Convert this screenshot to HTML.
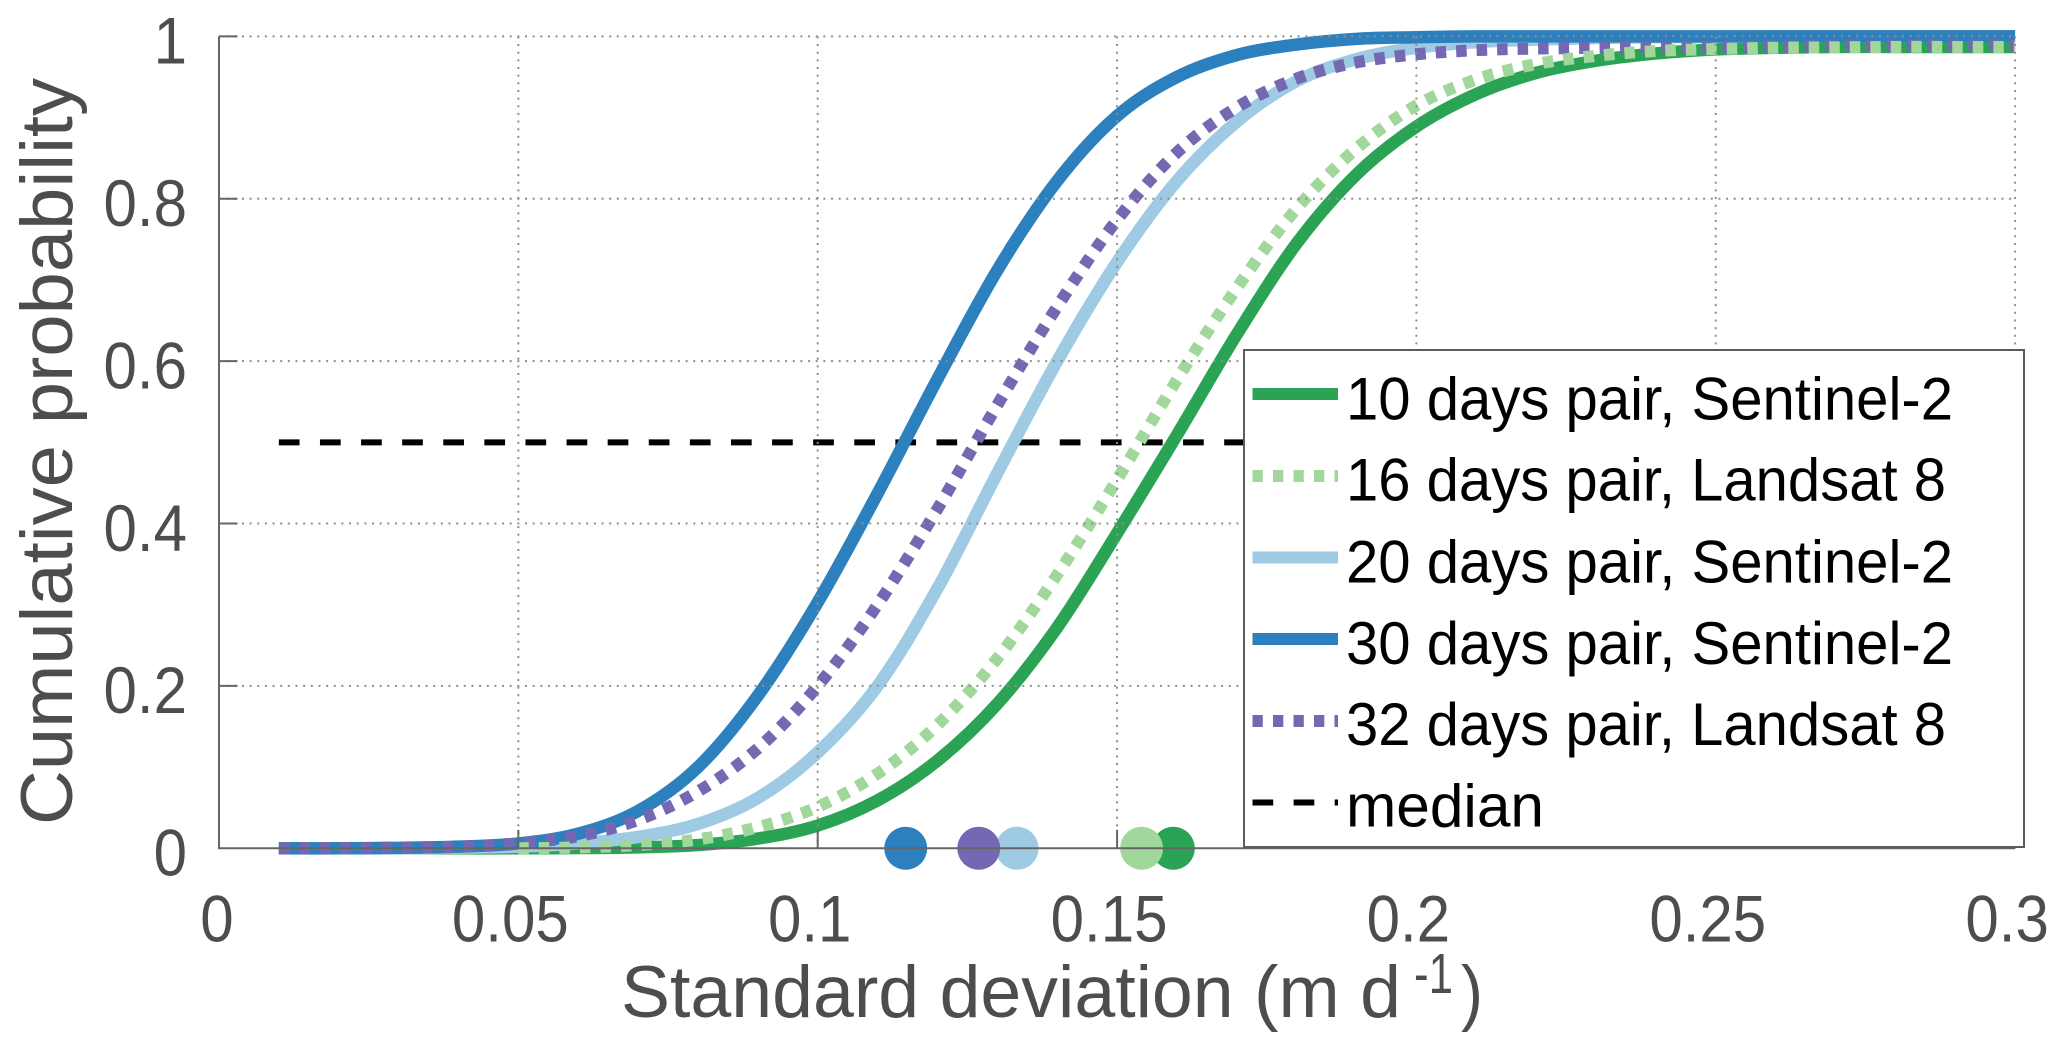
<!DOCTYPE html>
<html lang="en">
<head>
<meta charset="utf-8">
<title>Cumulative probability of standard deviation</title>
<style>
html,body{margin:0;padding:0;background:#fff;}
svg{display:block;}
text{font-family:"Liberation Sans",sans-serif;}
</style>
</head>
<body>
<svg id="chart" xmlns="http://www.w3.org/2000/svg" width="2067" height="1044" viewBox="0 0 2067 1044">
  <rect x="0" y="0" width="2067" height="1044" fill="#fff"/>
  <g id="marks"></g>
  <g id="axes"></g>

  <text transform="translate(72,825) rotate(-90)" font-size="73" fill="#4d4d4f" textLength="747" lengthAdjust="spacingAndGlyphs">Cumulative probability</text>
  <g fill="#4d4d4f">
    <text x="621" y="1017" font-size="73" textLength="780" lengthAdjust="spacingAndGlyphs">Standard deviation (m d</text>
    <text x="1414" y="993" font-size="57" textLength="39" lengthAdjust="spacingAndGlyphs">-1</text>
    <text x="1461" y="1017" font-size="73" textLength="22" lengthAdjust="spacingAndGlyphs">)</text>
  </g>

  <g>
    <rect x="1244" y="350" width="780" height="497" fill="#fff" stroke="#5c5c5c" stroke-width="2"/>
    <g>
      <line x1="1252.5" x2="1338" y1="394" y2="394" stroke="#2ba355" stroke-width="12"/>
      <text x="1346" y="419.3" font-size="60" fill="#000" textLength="607" lengthAdjust="spacingAndGlyphs">10 days pair, Sentinel-2</text>
    </g>
    <g>
      <line x1="1252.5" x2="1338" y1="476" y2="476" stroke="#a1d79b" stroke-width="12" stroke-dasharray="10.3 10.2"/>
      <text x="1346" y="500.7" font-size="60" fill="#000" textLength="600" lengthAdjust="spacingAndGlyphs">16 days pair, Landsat 8</text>
    </g>
    <g>
      <line x1="1252.5" x2="1338" y1="557.5" y2="557.5" stroke="#9ecae3" stroke-width="12"/>
      <text x="1346" y="582.5" font-size="60" fill="#000" textLength="607" lengthAdjust="spacingAndGlyphs">20 days pair, Sentinel-2</text>
    </g>
    <g>
      <line x1="1252.5" x2="1338" y1="639" y2="639" stroke="#2c80bd" stroke-width="12"/>
      <text x="1346" y="664" font-size="60" fill="#000" textLength="607" lengthAdjust="spacingAndGlyphs">30 days pair, Sentinel-2</text>
    </g>
    <g>
      <line x1="1252.5" x2="1338" y1="721" y2="721" stroke="#7468b2" stroke-width="12" stroke-dasharray="10.3 10.2"/>
      <text x="1346" y="745" font-size="60" fill="#000" textLength="600" lengthAdjust="spacingAndGlyphs">32 days pair, Landsat 8</text>
    </g>
    <g>
      <line x1="1252.5" x2="1338" y1="802.5" y2="802.5" stroke="#000" stroke-width="6" stroke-dasharray="20.7 20.4"/>
      <text x="1346" y="826.4" font-size="60" fill="#000" textLength="198" lengthAdjust="spacingAndGlyphs">median</text>
    </g>
  </g>
</svg>

<script>
const xSamples = [0.01,0.02,0.03,0.04,0.05,0.06,0.07,0.08,0.09,0.10,0.11,0.12,0.13,0.14,0.15,0.16,0.17,0.18,0.19,0.20,0.21,0.22,0.23,0.24,0.25,0.26,0.27,0.28,0.29,0.30];
const days10Sentinel = [0,0,0,0,0,0.0003,0.0012,0.004,0.012,0.028,0.059,0.108,0.178,0.272,0.388,0.509,0.633,0.745,0.83,0.889,0.929,0.955,0.97,0.979,0.984,0.986,0.987,0.987,0.987,0.987];
const days16Landsat = [0,0,0,0,0,0.001,0.004,0.011,0.026,0.051,0.092,0.152,0.234,0.337,0.454,0.577,0.69,0.788,0.862,0.915,0.947,0.966,0.976,0.982,0.9845,0.986,0.9865,0.987,0.987,0.987];
const days20Sentinel = [0,0,0,0.0008,0.002,0.006,0.014,0.03,0.062,0.118,0.2,0.32,0.462,0.6,0.722,0.822,0.895,0.945,0.972,0.986,0.993,0.996,0.998,0.999,0.9995,1,1,1,1,1];
const days30Sentinel = [0,0,0.0005,0.002,0.006,0.018,0.046,0.1,0.188,0.303,0.437,0.578,0.712,0.822,0.902,0.95,0.977,0.99,0.997,0.999,1,1,1,1,1,1,1,1,1,1];
const days32Landsat = [0,0,0.001,0.002,0.006,0.015,0.035,0.07,0.123,0.2,0.3,0.418,0.546,0.667,0.774,0.857,0.9125,0.948,0.968,0.978,0.983,0.985,0.986,0.987,0.987,0.9875,0.988,0.988,0.9885,0.9885];
const medianLevel = [0.5, 0.5];
const medianExtent = [0.01, 0.3];
const medianDots30 = 0.1147;
const medianDots20 = 0.1333;
const medianDots32 = 0.1269;
const medianDots10 = 0.1594;
const medianDots16 = 0.1541;
const xTicks = [0,0.05,0.1,0.15,0.2,0.25,0.3];
const xTickLabels = ["0","0.05","0.1","0.15","0.2","0.25","0.3"];
const yTicks = [0,0.2,0.4,0.6,0.8,1];
const yTickLabels = ["0","0.2","0.4","0.6","0.8","1"];

const SVGNS = "http://www.w3.org/2000/svg";
const marks = document.getElementById("marks");
const axes = document.getElementById("axes");
function xScale(v){ return 219 + v * 5987; }
function yScale(v){ return 848.3 - v * 811.9; }
function make(tag, attrs, parent){
  const el = document.createElementNS(SVGNS, tag);
  for (const k in attrs) el.setAttribute(k, attrs[k]);
  parent.appendChild(el);
  return el;
}
function smoothPath(xs, ys){
  const p = xs.map((x,i)=>[xScale(x), yScale(ys[i])]);
  let d = "M" + p[0][0].toFixed(2) + "," + p[0][1].toFixed(2);
  for (let i = 0; i < p.length - 1; i++){
    const a = p[Math.max(i-1,0)], b = p[i], c = p[i+1], e = p[Math.min(i+2,p.length-1)];
    const c1x = b[0] + (c[0]-a[0])/6, c1y = b[1] + (c[1]-a[1])/6;
    const c2x = c[0] - (e[0]-b[0])/6, c2y = c[1] - (e[1]-b[1])/6;
    d += "C" + c1x.toFixed(2) + "," + c1y.toFixed(2) + " " + c2x.toFixed(2) + "," + c2y.toFixed(2) + " " + c[0].toFixed(2) + "," + c[1].toFixed(2);
  }
  return d;
}
/* the 16-day dashes are not visible along the flat zero tail, so start the path where the curve lifts */
function liftStart(ys){
  const first = ys.findIndex(function(v){ return v > 0; });
  return Math.max(first - 1, 0);
}

/* median line */
const medianLine = make("line", {x1:xScale(medianExtent[0]), x2:xScale(medianExtent[1]), y1:yScale(medianLevel[0]), y2:yScale(medianLevel[1]), stroke:"#000", "stroke-width":6, "stroke-dasharray":"20.7 20.4"}, marks);



/* curves */
const curve10 = make("path", {d:smoothPath(xSamples, days10Sentinel), fill:"none", stroke:"#2ba355", "stroke-width":12.5}, marks);


const curve20 = make("path", {d:smoothPath(xSamples, days20Sentinel), fill:"none", stroke:"#9ecae3", "stroke-width":12.5}, marks);


const curve30 = make("path", {d:smoothPath(xSamples, days30Sentinel), fill:"none", stroke:"#2c80bd", "stroke-width":12.5}, marks);


const curve32 = make("path", {d:smoothPath(xSamples, days32Landsat), fill:"none", stroke:"#7468b2", "stroke-width":12, "stroke-dasharray":"10.5 10"}, marks);


const start16 = liftStart(days16Landsat);
const curve16 = make("path", {d:smoothPath(xSamples.slice(start16), days16Landsat.slice(start16)), fill:"none", stroke:"#a1d79b", "stroke-width":12, "stroke-dasharray":"10.5 10"}, marks);



/* median dots */
const dot30 = make("circle", {cx:xScale(medianDots30), cy:yScale(0), r:21.5, fill:"#2c80bd"}, marks);


const dot20 = make("circle", {cx:xScale(medianDots20), cy:yScale(0), r:21.5, fill:"#9ecae3"}, marks);


const dot32 = make("circle", {cx:xScale(medianDots32), cy:yScale(0), r:21.5, fill:"#7468b2"}, marks);


const dot10 = make("circle", {cx:xScale(medianDots10), cy:yScale(0), r:21.5, fill:"#2ba355"}, marks);


const dot16 = make("circle", {cx:xScale(medianDots16), cy:yScale(0), r:21.5, fill:"#a1d79b"}, marks);



/* grid, axes, ticks and tick labels sit above the marks */
xTicks.forEach(function(t, i){
  const x = xScale(t);
  if (t !== 0) {
    const g = make("line", {x1:x, x2:x, y1:yScale(1), y2:yScale(0), stroke:"#8f8f8f", "stroke-width":2, "stroke-dasharray":"2 5.65"}, axes);
    
    
    const tk = make("line", {x1:x, x2:x, y1:yScale(0), y2:yScale(0)-18.5, stroke:"#666", "stroke-width":2}, axes);
    
    
  }
  const labelX = x - (t === 0 ? 2 : 8);
  const lb = make("text", {transform:"translate(" + labelX + ",941.5) scale(0.91,1)", "text-anchor":"middle", "font-size":66, fill:"#4d4d4f"}, axes);
  
  
  lb.textContent = xTickLabels[i];
});
yTicks.forEach(function(t, i){
  const y = yScale(t);
  if (t !== 0) {
    const g = make("line", {x1:xScale(0), x2:xScale(0.3), y1:y, y2:y, stroke:"#8f8f8f", "stroke-width":2, "stroke-dasharray":"2 5.65"}, axes);
    
    
    const tk = make("line", {x1:xScale(0), x2:xScale(0)+18.5, y1:y, y2:y, stroke:"#666", "stroke-width":2}, axes);
    
    
  }
  const lb = make("text", {transform:"translate(187," + (y+27.3) + ") scale(0.91,1)", "text-anchor":"end", "font-size":66, fill:"#4d4d4f"}, axes);
  
  
  lb.textContent = yTickLabels[i];
});
const xAxisLine = make("line", {x1:xScale(0)-1, x2:xScale(0.3), y1:yScale(0), y2:yScale(0), stroke:"#666", "stroke-width":2}, axes);


const yAxisLine = make("line", {x1:xScale(0), x2:xScale(0), y1:yScale(1), y2:yScale(0), stroke:"#666", "stroke-width":2}, axes);


</script>
</body>
</html>
